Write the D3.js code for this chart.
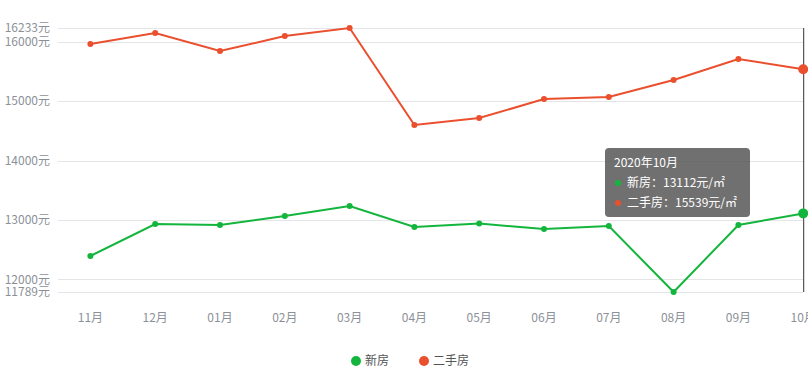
<!doctype html>
<html>
<head>
  <meta charset="utf-8">
  <script src="https://d3js.org/d3.v7.min.js"></script>
  <style>
    body {margin: 0; background: #fff;}
    svg {display: block; font-family: "Noto Sans CJK SC", "Noto Sans", sans-serif;}
  </style>
</head>
<body>
  <svg width="808" height="374"></svg>
  <script>
    const months = ['11月','12月','01月','02月','03月','04月','05月','06月','07月','08月','09月','10月']
    const newHouse = [12395, 12933, 12917, 13068, 13236, 12883, 12940, 12849, 12900, 11789, 12917, 13112]
    const oldHouse = [15963, 16148, 15845, 16098, 16233, 14600, 14717, 15037, 15071, 15357, 15710, 15539]
    const yTicks = [11789, 12000, 13000, 14000, 15000, 16000, 16233]
    const seriesNames = ['新房', '二手房']
    const colors = ['#14b53d', '#ea4f2e']

    const svg = d3.select('svg')
    const mLeft = 58, mTop = 28, mBottom = 292
    const band = 64.8

    const x = d3.scaleBand().domain(months).range([mLeft, mLeft + band * months.length])
    const y = d3.scaleLinear().domain([11789, 16233]).range([mBottom, mTop])
    const cx = d => x(d) + x.bandwidth() / 2

    // grid
    svg.append('g').selectAll('line')
      .data(yTicks)
      .join('line')
      .attr('x1', mLeft).attr('x2', 803)
      .attr('y1', d => Math.round(y(d)) + 0.5).attr('y2', d => Math.round(y(d)) + 0.5)
      .attr('stroke', '#e3e5e8')

    // y labels
    svg.append('g').selectAll('text')
      .data(yTicks)
      .join('text')
      .attr('x', 50).attr('y', d => y(d))
      .attr('dy', '0.35em')
      .attr('text-anchor', 'end')
      .attr('font-size', 12)
      .attr('fill', '#8c9199')
      .text(d => d + '元')

    // x labels
    svg.append('g').selectAll('text')
      .data(months)
      .join('text')
      .attr('x', d => cx(d)).attr('y', 318)
      .attr('dy', '0.35em')
      .attr('text-anchor', 'middle')
      .attr('font-size', 12)
      .attr('fill', '#8c9199')
      .text(d => d)

    // crosshair
    const last = months[months.length - 1]
    svg.append('line')
      .attr('x1', cx(last) + 0.5).attr('x2', cx(last) + 0.5)
      .attr('y1', mTop).attr('y2', mBottom)
      .attr('stroke', '#333')

    const line = d3.line().x((d, i) => cx(months[i])).y(d => y(d))
    ;[newHouse, oldHouse].forEach((vals, s) => {
      svg.append('path')
        .datum(vals)
        .attr('d', line)
        .attr('fill', 'none')
        .attr('stroke', colors[s])
        .attr('stroke-width', 2)
      svg.append('g').selectAll('circle')
        .data(vals)
        .join('circle')
        .attr('cx', (d, i) => cx(months[i]))
        .attr('cy', d => y(d))
        .attr('r', (d, i) => i === vals.length - 1 ? 5 : 3)
        .attr('fill', colors[s])
    })

    // tooltip
    const tip = svg.append('g').attr('transform', 'translate(605,148)')
    tip.append('rect')
      .attr('width', 145).attr('height', 69).attr('rx', 4)
      .attr('fill', 'rgba(80,80,80,0.82)')
    tip.append('text').attr('x', 9).attr('y', 19)
      .attr('fill', '#fff').attr('font-size', 12).text('2020年' + last)
    const tipVals = [newHouse[newHouse.length - 1], oldHouse[oldHouse.length - 1]]
    seriesNames.forEach((n, i) => {
      tip.append('circle').attr('cx', 13).attr('cy', 35 + i * 20).attr('r', 3).attr('fill', colors[i])
      tip.append('text').attr('x', 22).attr('y', 39 + i * 20)
        .attr('fill', '#fff').attr('font-size', 12)
        .text(n + '：' + tipVals[i] + '元/㎡')
    })

    // legend
    const lg = svg.append('g')
    const lx = [356, 424]
    seriesNames.forEach((n, i) => {
      lg.append('circle').attr('cx', lx[i]).attr('cy', 361).attr('r', 5).attr('fill', colors[i])
      lg.append('text').attr('x', lx[i] + 9).attr('y', 361).attr('dy', '0.35em')
        .attr('font-size', 12).attr('fill', '#555').text(n)
    })
  </script>
</body>
</html>
